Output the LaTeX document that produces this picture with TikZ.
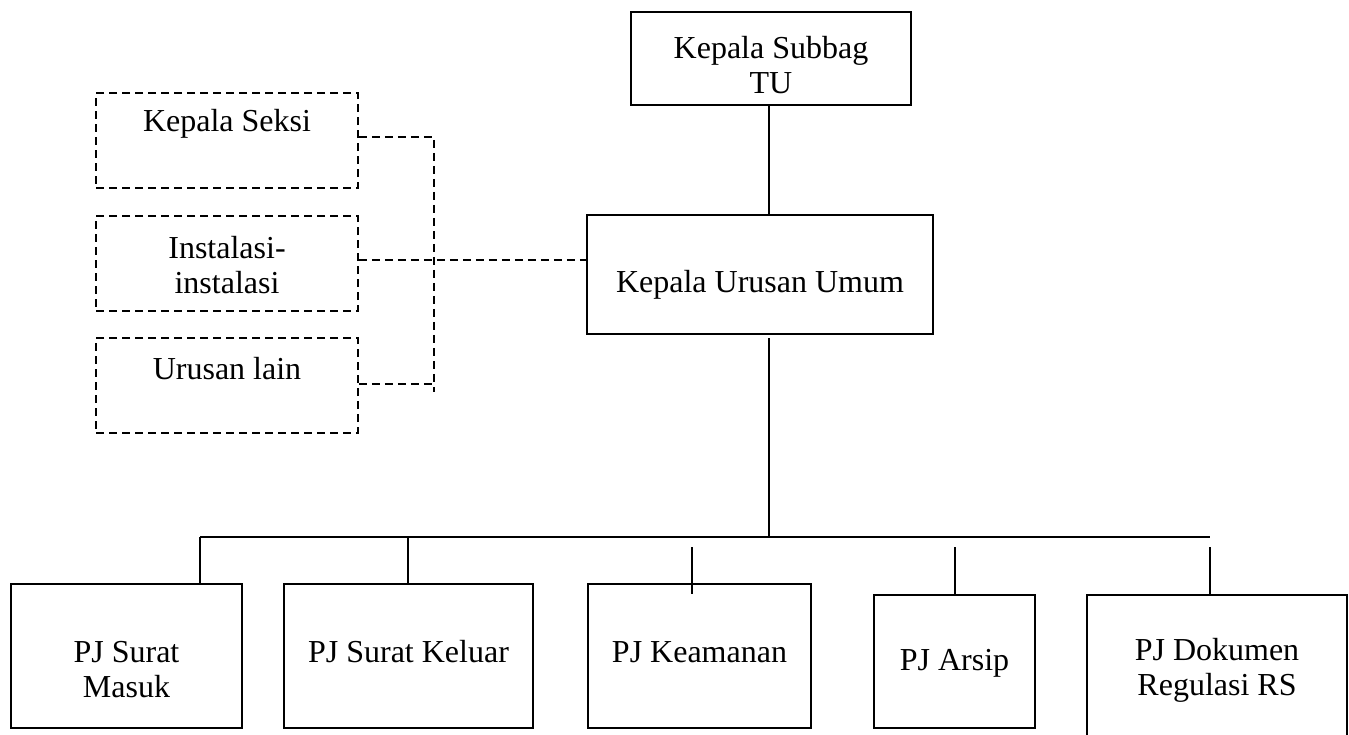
\documentclass[tikz,border=0pt]{standalone}
\usepackage{fontspec}
\setmainfont{Liberation Serif}
\begin{document}
\begin{tikzpicture}[x=1pt,y=-1pt,
  every node/.style={font=\fontsize{32}{35}\selectfont, align=center},
  solidbox/.style={draw, line width=1.9pt, inner sep=0pt},
  dashbox/.style={draw, line width=1.6pt, dash pattern=on 8pt off 5pt, inner sep=0pt},
  link/.style={line width=1.9pt},
  dlink/.style={line width=1.6pt, dash pattern=on 8pt off 5pt},
  txt/.style={inner sep=0pt}]
\useasboundingbox (0,0) rectangle (1349,734);

% top of the hierarchy
\node[solidbox, minimum width=280, minimum height=93] (subbag) at (771,58.5) {};
\node[txt] at (771,65) {Kepala Subbag\\TU};
\node[solidbox, minimum width=346, minimum height=119] (umum) at (760,274.5) {};
\node[txt] at (760,285) {Kepala Urusan Umum};

% coordinating units (dashed)
\node[dashbox, minimum width=262, minimum height=95] (seksi) at (227,140.5) {};
\node[txt] at (227,124) {Kepala Seksi};
\node[dashbox, minimum width=262, minimum height=95] (inst) at (227,263.5) {};
\node[txt] at (227,265) {Instalasi-\\instalasi};
\node[dashbox, minimum width=262, minimum height=95] (lain) at (227,385.5) {};
\node[txt] at (227,369) {Urusan lain};

% subordinate units
\node[solidbox, minimum width=231, minimum height=144] (masuk) at (126.5,656) {};
\node[txt] at (126.5,670) {PJ Surat\\Masuk};
\node[solidbox, minimum width=249, minimum height=144] (keluar) at (408.5,656) {};
\node[txt] at (408.5,652) {PJ Surat Keluar};
\node[solidbox, minimum width=223, minimum height=144] (aman) at (699.5,656) {};
\node[txt] at (699.5,652) {PJ Keamanan};
\node[solidbox, minimum width=161, minimum height=133] (arsip) at (954.5,661.5) {};
\node[txt] at (954.5,663) {PJ Arsip};
\node[solidbox, minimum width=260, minimum height=150] (dok) at (1217,670) {};
\node[txt] at (1217,670) {PJ Dokumen\\Regulasi RS};

% bus junctions
\coordinate (busL) at (200,537);
\coordinate (busR) at (1210,537);
\coordinate (dv) at (434,137);
\coordinate (dvEnd) at (434,392);

% solid connectors
\draw[link] (subbag.south -| 769,0) -- (umum.north -| 769,0);
\draw[link] (769,338) -- (769,537);
\draw[link] (busL) -- (busR);
\draw[link] (busL) -- (busL |- masuk.north);
\draw[link] (408,537) -- (408,584);
\draw[link] (692,547) -- (692,594);
\draw[link] (955,547) -- (955,595);
\draw[link] (1210,547) -- (1210,595);

% dashed connectors
\draw[dlink] (seksi.east |- dv) -- (dv) -- (dvEnd);
\draw[dlink] (lain.east |- 0,384) -- (434,384);
\draw[dlink] (inst.east |- 0,260) -- (umum.west |- 0,260);
\end{tikzpicture}
\end{document}
